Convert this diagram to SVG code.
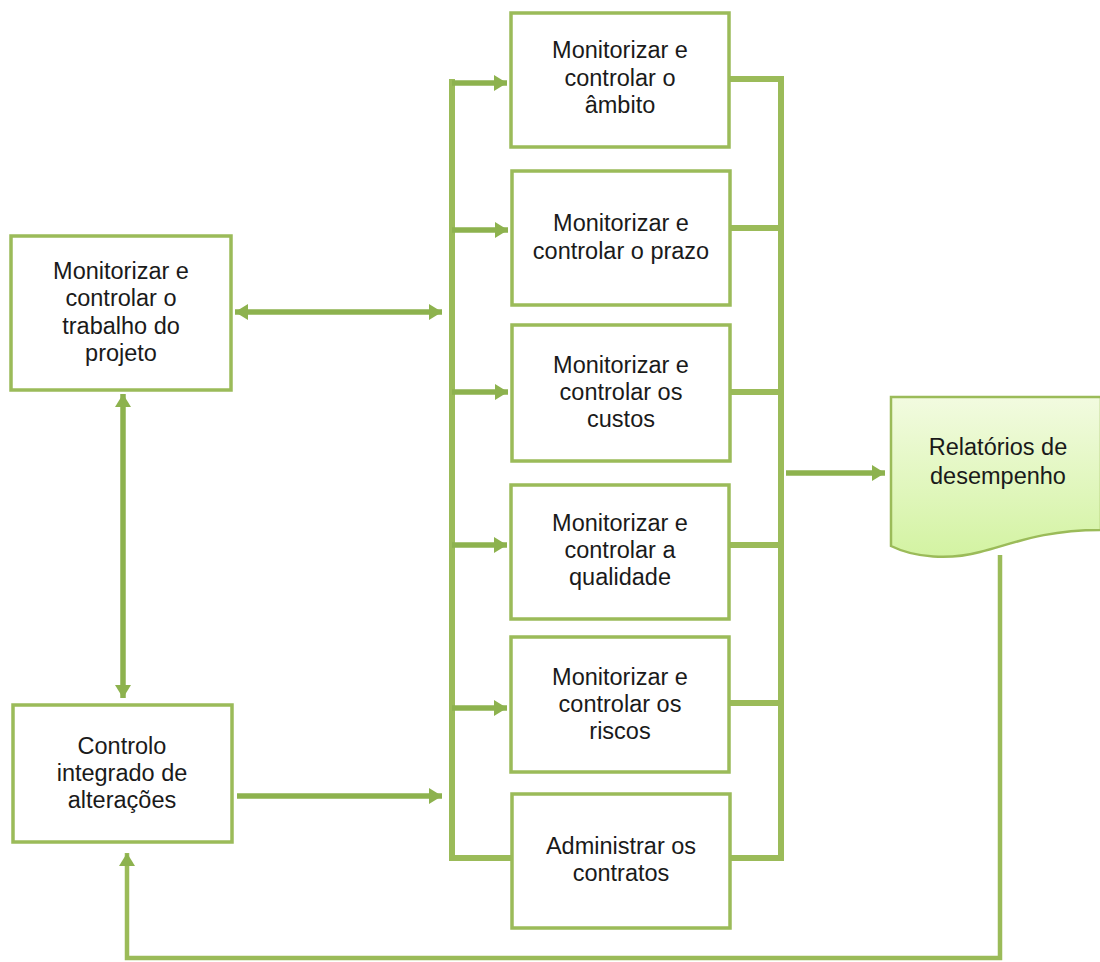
<svg xmlns="http://www.w3.org/2000/svg" width="1100" height="962" viewBox="0 0 1100 962">
<defs>
<style>
.box{fill:#fff;stroke:#9bbb59;stroke-width:3.5}
.t{font-family:"Liberation Sans",Arial,sans-serif;font-size:23.5px;fill:#1a1a1a;text-anchor:middle}
.ln{stroke:#9bbb59;fill:none;stroke-width:6}
.ar{stroke:#8db24e;fill:none;stroke-width:5.5}
.fb{stroke:#9bbb59;fill:none;stroke-width:4.5}
</style>
<marker id="ah" markerUnits="userSpaceOnUse" markerWidth="14" markerHeight="18" viewBox="0 0 14 18" refX="13" refY="9" orient="auto-start-reverse">
<path d="M0,1 L13,9 L0,17 Z" fill="#8db24e"/>
</marker>
<linearGradient id="dg" x1="0" y1="0" x2="0" y2="1">
<stop offset="0" stop-color="#f2fbe0"/>
<stop offset="1" stop-color="#d3f3a2"/>
</linearGradient>
</defs>
<rect width="1100" height="962" fill="#fff"/>
<g id="connectors">
<path class="ln" d="M452,79 V858 H512"/>
<path class="ar" d="M452,83 H507" marker-end="url(#ah)"/>
<path class="ar" d="M452,230 H508" marker-end="url(#ah)"/>
<path class="ar" d="M452,392 H508" marker-end="url(#ah)"/>
<path class="ar" d="M452,545 H507" marker-end="url(#ah)"/>
<path class="ar" d="M452,708 H507" marker-end="url(#ah)"/>
<path class="ln" d="M730,79 H781 V858 H730"/>
<path class="ln" d="M730,228 H781 M730,392 H781 M730,545 H781 M730,703 H781"/>
<path class="ar" d="M786,473 H885" marker-end="url(#ah)"/>
<path class="ar" d="M235,312 H442" marker-start="url(#ah)" marker-end="url(#ah)"/>
<path class="ar" d="M237,796 H442" marker-end="url(#ah)"/>
<path class="ar" d="M123,394 V698" marker-start="url(#ah)" marker-end="url(#ah)"/>
<path class="fb" d="M1000,555 V958 H127 V853" marker-end="url(#ah)"/>
</g>
<g id="n1"><rect class="box" x="511" y="13" width="218" height="134"/>
<text class="t" x="620" y="58">Monitorizar e</text><text class="t" x="620" y="86">controlar o</text><text class="t" x="620" y="113">âmbito</text></g>
<g id="n2"><rect class="box" x="512" y="171" width="218" height="134"/>
<text class="t" x="621" y="231">Monitorizar e</text><text class="t" x="621" y="259">controlar o prazo</text></g>
<g id="n3"><rect class="box" x="512" y="325" width="218" height="136"/>
<text class="t" x="621" y="373">Monitorizar e</text><text class="t" x="621" y="400">controlar os</text><text class="t" x="621" y="427">custos</text></g>
<g id="n4"><rect class="box" x="511" y="485" width="218" height="134"/>
<text class="t" x="620" y="531">Monitorizar e</text><text class="t" x="620" y="558">controlar a</text><text class="t" x="620" y="585">qualidade</text></g>
<g id="n5"><rect class="box" x="511" y="637" width="218" height="135"/>
<text class="t" x="620" y="685">Monitorizar e</text><text class="t" x="620" y="712">controlar os</text><text class="t" x="620" y="739">riscos</text></g>
<g id="n6"><rect class="box" x="512" y="794" width="218" height="134"/>
<text class="t" x="621" y="854">Administrar os</text><text class="t" x="621" y="881">contratos</text></g>
<g id="nA"><rect class="box" x="11" y="236" width="220" height="154"/>
<text class="t" x="121" y="279">Monitorizar e</text><text class="t" x="121" y="306">controlar o</text><text class="t" x="121" y="334">trabalho do</text><text class="t" x="121" y="361">projeto</text></g>
<g id="nB"><rect class="box" x="13" y="705" width="219" height="137"/>
<text class="t" x="122" y="754">Controlo</text><text class="t" x="122" y="781">integrado de</text><text class="t" x="122" y="808">alterações</text></g>
<g id="nDoc">
<path d="M891,397 H1101 V530 C1040,530 1010,545 980,552 C950,560 915,558 891,546 Z" fill="url(#dg)" stroke="#9bbb59" stroke-width="2.5"/>
<text class="t" x="998" y="455">Relatórios de</text><text class="t" x="998" y="484">desempenho</text></g>
</svg>
